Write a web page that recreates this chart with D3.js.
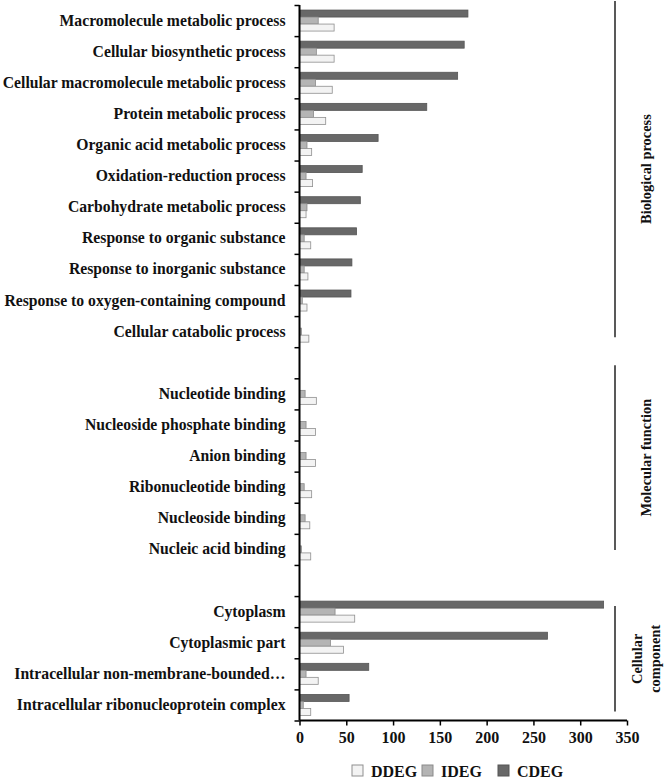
<!DOCTYPE html>
<html>
<head>
<meta charset="utf-8">
<script src="https://cdn.jsdelivr.net/npm/d3@7"></script>
<style>
  body { margin: 0; background: #fff; }
  svg text { font-family: "Liberation Serif", "Times New Roman", serif; font-weight: bold; fill: #111; }
</style>
</head>
<body>
<div id="graphContainer"></div>
<script>
// categories top to bottom, "gap" rows are empty slots between GO groups
const categories = [
  "Macromolecule metabolic process",
  "Cellular biosynthetic process",
  "Cellular macromolecule metabolic process",
  "Protein metabolic process",
  "Organic acid metabolic process",
  "Oxidation-reduction process",
  "Carbohydrate metabolic process",
  "Response to organic substance",
  "Response to inorganic substance",
  "Response to oxygen-containing compound",
  "Cellular catabolic process",
  "gap1",
  "Nucleotide binding",
  "Nucleoside phosphate binding",
  "Anion binding",
  "Ribonucleotide binding",
  "Nucleoside binding",
  "Nucleic acid binding",
  "gap2",
  "Cytoplasm",
  "Cytoplasmic part",
  "Intracellular non-membrane-bounded…",
  "Intracellular ribonucleoprotein complex"
];
const cdeg = [180, 176, 169, 136, 84, 67, 65, 61, 56, 55, 0, null, 0, 0, 0, 0, 0, 0, null, 325, 265, 74, 53];
const ideg = [20, 18, 17, 15, 8, 7, 8, 5, 5, 3, 2, null, 6, 7, 7, 5, 6, 2, null, 38, 33, 7, 4];
const ddeg = [37, 37, 35, 28, 13, 14, 7, 12, 9, 8, 10, null, 18, 17, 17, 13, 11, 12, null, 59, 47, 20, 12];
const xTicks = [0, 50, 100, 150, 200, 250, 300, 350];
const seriesNames = ["CDEG", "IDEG", "DDEG"];
const seriesColors = { CDEG: "#686868", IDEG: "#b4b4b4", DDEG: "#f3f3f3" };
const seriesStroke = { CDEG: "#555", IDEG: "#8a8a8a", DDEG: "#8f8f8f" };
const groups = [
  { name: ["Biological process"], from: "Macromolecule metabolic process", to: "Cellular catabolic process" },
  { name: ["Molecular function"], from: "Nucleotide binding", to: "Nucleic acid binding" },
  { name: ["Cellular", "component"], from: "Cytoplasm", to: "Intracellular ribonucleoprotein complex" }
];

let width = 666;
let height = 783;
const margin = { left: 299.5, top: 5 };
const plotW = 627 - margin.left;
const plotH = 720.5 - margin.top;

let svg = d3.select("#graphContainer").append("svg")
  .attr("width", width)
  .attr("height", height);

let g = svg.append("g").attr("transform", `translate(${margin.left},${margin.top})`);

let x = d3.scaleLinear().domain([0, 350]).range([0, plotW]);
let y = d3.scaleBand().domain(categories).range([0, plotH]).padding(0);
let sub = d3.scaleBand().domain(seriesNames).range([0, y.bandwidth()]).paddingInner(0).paddingOuter(0.72);

// bars
const values = { CDEG: cdeg, IDEG: ideg, DDEG: ddeg };
seriesNames.forEach(s => {
  let rows = categories.map((c, i) => ({ c, v: values[s][i] })).filter(d => d.v);
  g.selectAll(null)
    .data(rows)
    .enter().append("rect")
    .attr("x", 0)
    .attr("y", d => y(d.c) + sub(s))
    .attr("width", d => x(d.v))
    .attr("height", sub.bandwidth())
    .attr("fill", seriesColors[s])
    .attr("stroke", seriesStroke[s])
    .attr("stroke-width", 0.8);
});

// y axis: boundary ticks
let yLin = d3.scaleLinear().domain([0, categories.length]).range([0, plotH]);
g.append("g")
  .call(d3.axisLeft(yLin).tickValues(d3.range(0, categories.length + 1)).tickSize(5).tickFormat(""))
  .call(a => a.select(".domain").attr("stroke-width", 2).attr("d", `M0,0V${plotH}`))
  .call(a => a.selectAll(".tick line").attr("stroke-width", 1.5));

// y labels
g.append("g")
  .call(d3.axisLeft(y).tickSize(0).tickPadding(14).tickFormat(d => d.startsWith("gap") ? "" : d))
  .call(a => a.select(".domain").remove())
  .selectAll("text")
  .style("font-size", "15.7px");

// x axis
g.append("g")
  .attr("transform", `translate(0,${plotH})`)
  .call(d3.axisBottom(x).tickValues(xTicks).tickSize(5).tickPadding(6))
  .call(a => a.select(".domain").attr("stroke-width", 2).attr("d", `M0,0H${plotW}`))
  .call(a => a.selectAll(".tick line").attr("stroke-width", 1.5))
  .selectAll("text")
  .style("font-size", "16px");

// group brackets on the right
const gx = 615 - margin.left;
groups.forEach((gr, i) => {
  let y0 = y(gr.from) - (i === 0 ? 4 : 0);
  let y1 = y(gr.to) + y.bandwidth() - 10;
  if (i === 2) { y0 = y(gr.from) + 10; y1 = y(gr.to) + y.bandwidth() - 9; }
  if (i === 1) { y0 = y(gr.from) - 13; y1 = y(gr.to) + y.bandwidth() - 15; }
  g.append("line")
    .attr("x1", gx).attr("x2", gx)
    .attr("y1", y0).attr("y2", y1)
    .attr("stroke", "#222").attr("stroke-width", 1.5);
  let cy = (y0 + y1) / 2;
  let t = g.append("text")
    .attr("transform", `translate(${gx + 31 - (gr.name.length - 1) * 9},${cy}) rotate(-90)`)
    .attr("text-anchor", "middle")
    .style("font-size", "14.4px");
  gr.name.forEach((n, k) => {
    t.append("tspan").attr("x", 0).attr("dy", k === 0 ? "0.35em" : "1.25em").text(n);
  });
});

// legend
const legendOrder = ["DDEG", "IDEG", "CDEG"];
const legendX = [352, 422, 498];
let leg = svg.append("g");
legendOrder.forEach((s, i) => {
  leg.append("rect")
    .attr("x", legendX[i]).attr("y", 765)
    .attr("width", 11).attr("height", 11)
    .attr("fill", seriesColors[s])
    .attr("stroke", seriesStroke[s]);
  leg.append("text")
    .attr("x", legendX[i] + 19).attr("y", 777)
    .style("font-size", "16px")
    .text(s);
});
</script>
</body>
</html>
